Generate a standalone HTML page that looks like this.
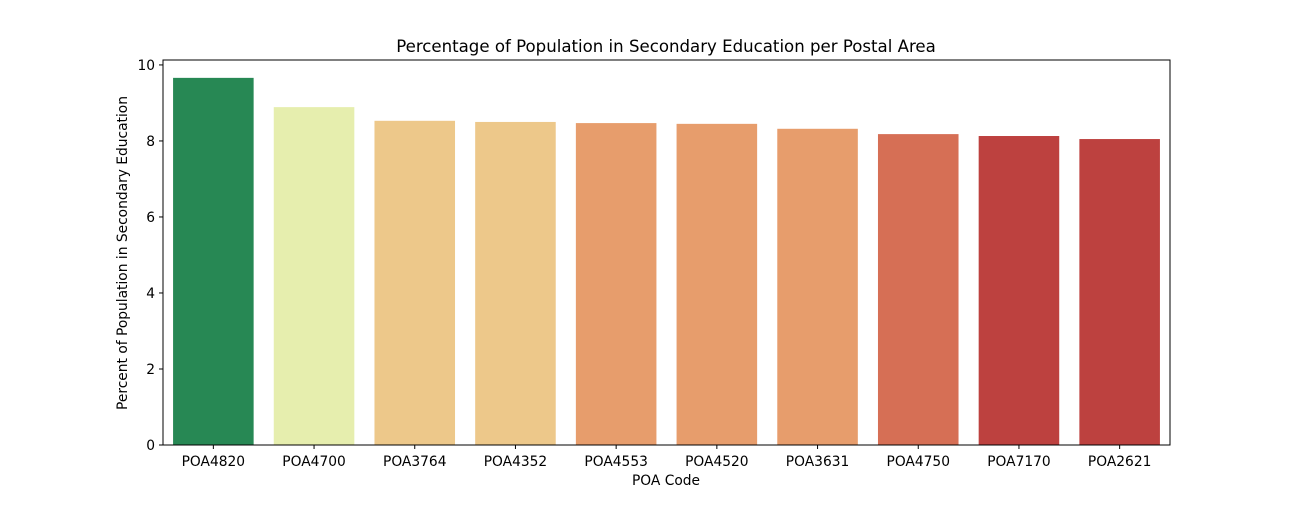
<!DOCTYPE html>
<html><head><meta charset="utf-8"><style>
html,body{margin:0;padding:0;background:#fff;}
svg text{font-family:"DejaVu Sans","Liberation Sans",sans-serif;fill:#000;}
</style></head><body>
<svg id="chart" width="1300" height="500">
<text x="666" y="52" font-size="16.6" text-anchor="middle">Percentage of Population in Secondary Education per Postal Area</text>
<g id="bars"></g>
<g id="axes"></g>
<text x="666" y="485" font-size="13.8" text-anchor="middle">POA Code</text>
<text transform="translate(127,253) rotate(-90)" font-size="13.8" text-anchor="middle">Percent of Population in Secondary Education</text>
</svg>
<script>
const categories=["POA4820","POA4700","POA3764","POA4352","POA4553","POA4520","POA3631","POA4750","POA7170","POA2621"];
const values=[9.66,8.89,8.53,8.50,8.47,8.45,8.32,8.18,8.13,8.05];
const colors=["#278854","#e6eeae","#edc88a","#edc88a","#e79d6c","#e79d6c","#e79d6c","#d66f55","#bd413f","#bd413f"];
const yTicks=[0,2,4,6,8,10];
const L=163,R=1170,T=60,B=445,yMax=10.13;
const ns="http://www.w3.org/2000/svg";
const y=v=>B-(v/yMax)*(B-T);
const slot=(R-L)/categories.length;
const x=i=>L+slot*i;
const bars=document.getElementById('bars'),axes=document.getElementById('axes');
function mk(t,a,p){const e=document.createElementNS(ns,t);for(const k in a)e.setAttribute(k,a[k]);p.appendChild(e);return e;}
categories.forEach((c,i)=>{
 const r=mk('rect',{x:x(i)+slot*0.1,y:y(values[i]),width:slot*0.8,height:B-y(values[i]),fill:colors[i]},bars);
 
 
 const cx=x(i)+slot/2;
 mk('line',{x1:cx,x2:cx,y1:B,y2:B+4,stroke:'#000'},axes);
 const t=mk('text',{x:cx,y:B+21,'font-size':13.8,'text-anchor':'middle'},axes);
 t.textContent=c;
 
 
});
yTicks.forEach(v=>{
 mk('line',{x1:L-4,x2:L,y1:y(v),y2:y(v),stroke:'#000'},axes);
 const t=mk('text',{x:L-8,y:y(v)+5,'font-size':13.8,'text-anchor':'end'},axes);
 t.textContent=v;
 
 
});
const f=mk('rect',{x:L,y:T,width:R-L,height:B-T,fill:'none',stroke:'#000','stroke-width':1},axes);


</script>
</body></html>
